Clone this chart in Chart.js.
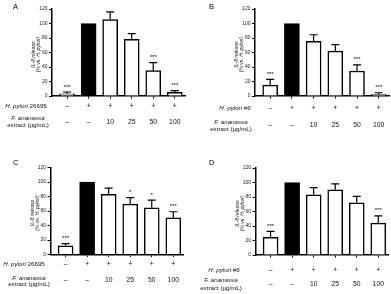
<!DOCTYPE html>
<html>
<head>
<meta charset="utf-8">
<script src="https://cdn.jsdelivr.net/npm/chart.js@4.4.0/dist/chart.umd.min.js"></script>
<style>
  html, body { margin: 0; padding: 0; background: #fff; }
  #wrap { position: relative; width: 391px; height: 294px; overflow: hidden; }
  canvas { position: absolute; }
</style>
</head>
<body>
<div id="wrap">
  <canvas id="cA" width="196" height="147" style="left:0;top:0"></canvas>
  <canvas id="cB" width="195" height="147" style="left:196px;top:0"></canvas>
  <canvas id="cC" width="196" height="147" style="left:0;top:147px"></canvas>
  <canvas id="cD" width="195" height="147" style="left:196px;top:147px"></canvas>
</div>
<script>
'use strict';

// ─── Data ────────────────────────────────────────────────────────────────────
const GROUPS     = ['ctrl', 'H. pylori', '10', '25', '50', '100'];
const STRAIN_ROW = ['–', '+', '+', '+', '+', '+'];
const DOSE_ROW   = ['–', '–', '10', '25', '50', '100'];
const Y_TICKS    = [0, 20, 40, 60, 80, 100, 120];

const A_VALUES = [3, 100, 105.5, 78, 35, 5];
const A_ERRORS = [2.5, 0, 10.5, 8, 11, 2.5];
const A_STARS  = ['***', '', '', '', '***', '***'];

const B_VALUES = [15, 100, 75.5, 62, 34.5, 2];
const B_ERRORS = [8, 0, 9, 9, 8.5, 2.5];
const B_STARS  = ['***', '', '', '', '***', '***'];

const C_VALUES = [12, 100, 83, 69.5, 64.5, 50.5];
const C_ERRORS = [3, 0, 8.5, 9, 10.5, 8.5];
const C_STARS  = ['***', '', '', '*', '*', '***'];

const D_VALUES = [24.5, 100, 83, 90, 72, 44];
const D_ERRORS = [8, 0, 10, 8, 9, 10];
const D_STARS  = ['***', '', '', '', '', '***'];

// ─── Layout per panel (canvas coords) ────────────────────────────────────────
const FONT = '"Liberation Sans", Arial, sans-serif';
const X_MIN = -0.70, X_MAX = 5.474;

const PANELS = [
  { id: 'cA', letter: 'A', strain: '26695', values: A_VALUES, errors: A_ERRORS, stars: A_STARS,
    left: 52, top: 9, bottom: 96, right: 11, letterY: 8.5,
    r1: 106, rF: 118.5, rE: 125.5, rV: 122, lx1: 26, lx2: 28 },
  { id: 'cB', letter: 'B', strain: '#6', values: B_VALUES, errors: B_ERRORS, stars: B_STARS,
    left: 59, top: 9, bottom: 96, right: 2, letterY: 8.5,
    r1: 108, rF: 122, rE: 129, rV: 125, lx1: 39, lx2: 35 },
  { id: 'cC', letter: 'C', strain: '26695', values: C_VALUES, errors: C_ERRORS, stars: C_STARS,
    left: 50.5, top: 20.5, bottom: 107.5, right: 12.5, letterY: 17.5,
    r1: 117, rF: 131, rE: 137.5, rV: 133, lx1: 24, lx2: 29 },
  { id: 'cD', letter: 'D', strain: '#6', values: D_VALUES, errors: D_ERRORS, stars: D_STARS,
    left: 59.5, top: 21, bottom: 108, right: 2.5, letterY: 17.5,
    r1: 123, rF: 133.5, rE: 141.5, rV: 137.5, lx1: 28, lx2: 25 },
];

// ─── Drawing helpers ─────────────────────────────────────────────────────────
function mixedText(c, parts, cx, y) {
  // parts: [[text, italic], ...] centred as one run at cx
  const widths = parts.map(([t, it]) => {
    c.font = `${it ? 'italic ' : ''}6.2px ${FONT}`;
    return c.measureText(t).width;
  });
  let x = cx - widths.reduce((a, b) => a + b, 0) / 2;
  c.textAlign = 'left';
  parts.forEach(([t, it], i) => {
    c.font = `${it ? 'italic ' : ''}6.2px ${FONT}`;
    c.fillText(t, x, y);
    x += widths[i];
  });
}

function annotPlugin(p) {
  return {
    id: 'annot' + p.letter,
    afterDatasetsDraw(chart) {
      const c = chart.ctx, xs = chart.scales.x, ys = chart.scales.y;
      c.save();
      c.strokeStyle = '#000'; c.fillStyle = '#000'; c.lineWidth = 1.2;
      p.values.forEach((v, i) => {
        const e  = p.errors[i];
        const px = xs.getPixelForValue(i);
        const top = ys.getPixelForValue(v + e);
        if (e > 0) {
          c.beginPath();
          c.moveTo(px, ys.getPixelForValue(v)); c.lineTo(px, top);
          c.moveTo(px - 4, top); c.lineTo(px + 4, top);
          c.stroke();
        }
        if (p.stars[i]) {
          c.font = `6px ${FONT}`;
          c.textAlign = 'center'; c.textBaseline = 'alphabetic';
          c.fillText(p.stars[i], px, top - 3.5);
        }
      });
      c.restore();
    },
    afterDraw(chart) {
      const c = chart.ctx, xs = chart.scales.x, area = chart.chartArea;
      c.save();
      c.fillStyle = '#111';
      c.textBaseline = 'middle';

      // row labels
      mixedText(c, [['H. pylori ', true], [p.strain, p.strain === '#6']], p.lx1, p.r1);
      mixedText(c, [['F. ananassa', true]], p.lx2, p.rF);
      mixedText(c, [['extract (µg/mL)', false]], p.lx2, p.rE);

      c.textAlign = 'center';
      c.font = `6.8px ${FONT}`;
      STRAIN_ROW.forEach((t, i) => c.fillText(t, xs.getPixelForValue(i), p.r1));
      DOSE_ROW.forEach((t, i) => c.fillText(t, xs.getPixelForValue(i), p.rV));

      // y axis title, two rotated lines
      const midY = (area.top + area.bottom) / 2 + 2;
      c.save();
      c.translate(area.left - 18, midY);
      c.rotate(-Math.PI / 2);
      c.textAlign = 'center';
      c.font = `italic 5px ${FONT}`;
      c.fillText('IL-8 release', 0, 0);
      c.restore();
      c.save();
      c.translate(area.left - 13, midY);
      c.rotate(-Math.PI / 2);
      const parts = [['(% vs. ', false], ['H. pylori', true], [')', false]];
      const w = parts.map(([t, it]) => { c.font = `${it ? 'italic ' : ''}5px ${FONT}`; return c.measureText(t).width; });
      let x = -w.reduce((a, b) => a + b, 0) / 2;
      c.textAlign = 'left';
      parts.forEach(([t, it], i) => { c.font = `${it ? 'italic ' : ''}5px ${FONT}`; c.fillText(t, x, 0); x += w[i]; });
      c.restore();

      // panel letter
      c.fillStyle = '#000';
      c.textAlign = 'left'; c.textBaseline = 'alphabetic';
      c.font = `7.5px ${FONT}`;
      c.fillText(p.letter, 13, p.letterY);
      c.restore();
    },
  };
}

// ─── Charts ──────────────────────────────────────────────────────────────────
function makePanel(p) {
  const canvas = document.getElementById(p.id);
  return new Chart(canvas, {
    type: 'bar',
    data: {
      datasets: [{
        data: p.values.map((v, i) => ({ x: i, y: v })),
        backgroundColor: GROUPS.map((g, i) => (i === 1 ? '#000' : '#fff')),
        borderColor: '#000',
        borderWidth: 1.5,
        barThickness: 15,
      }],
    },
    options: {
      responsive: false,
      animation: false,
      events: [],
      layout: { padding: { left: 0, top: p.top, right: p.right, bottom: 0 } },
      plugins: { legend: { display: false }, tooltip: { enabled: false } },
      scales: {
        x: {
          type: 'linear', min: X_MIN, max: X_MAX, offset: false,
          afterBuildTicks: s => { s.ticks = GROUPS.map((g, i) => ({ value: i })); },
          afterFit: s => { s.height = canvas.height - p.bottom; },
          ticks: { display: false },
          grid: { drawOnChartArea: false, tickLength: 2.5, color: '#000', lineWidth: 1, offset: false },
          border: { color: '#000', width: 1.5 },
        },
        y: {
          min: 0, max: 120,
          afterBuildTicks: s => { s.ticks = Y_TICKS.map(v => ({ value: v })); },
          afterFit: s => { s.width = p.left; },
          ticks: { font: { size: 5, family: FONT }, color: '#222', padding: 1.5 },
          grid: { drawOnChartArea: false, tickLength: 3, color: '#000', lineWidth: 1 },
          border: { color: '#000', width: 1.5 },
        },
      },
    },
    plugins: [annotPlugin(p)],
  });
}

PANELS.forEach(makePanel);
</script>
</body>
</html>
